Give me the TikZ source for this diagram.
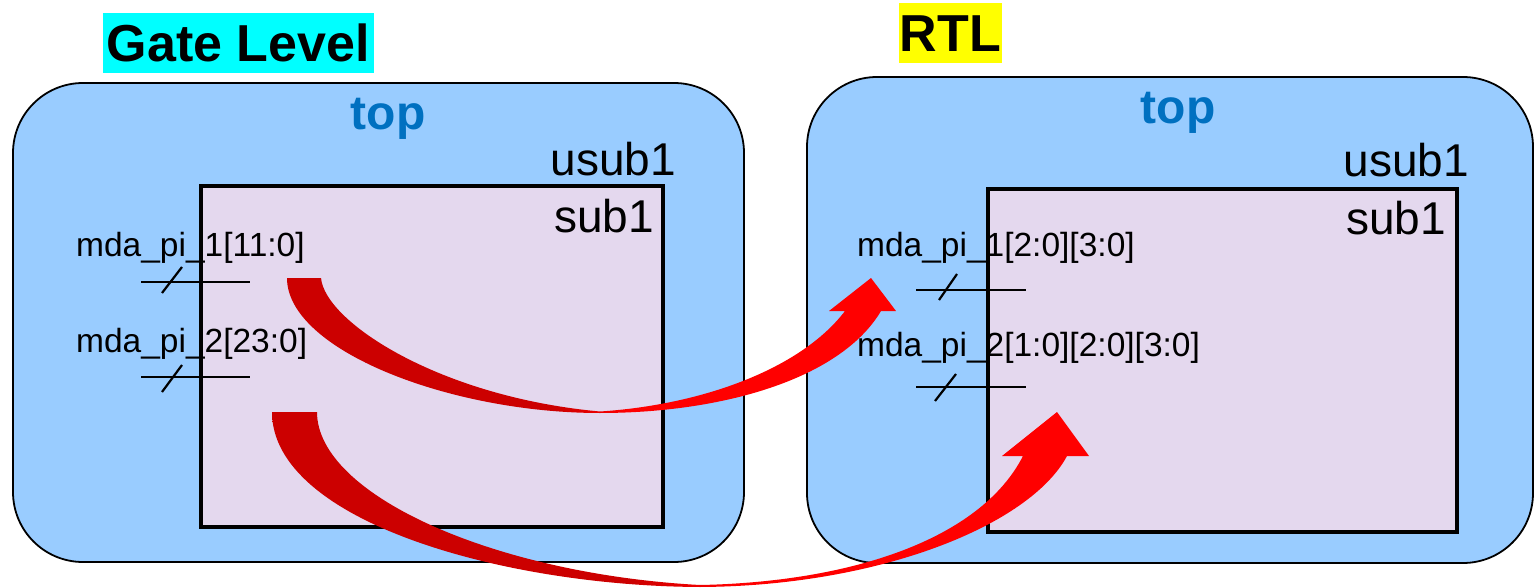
\documentclass[tikz,border=0pt]{standalone}
\usepackage{fontspec}
\setmainfont{Liberation Sans}
\definecolor{topfill}{HTML}{99CCFF}
\definecolor{subfill}{HTML}{E4D8EE}
\definecolor{topblue}{HTML}{0070C0}
\definecolor{gatemark}{HTML}{00FFFF}
\definecolor{rtlmark}{HTML}{FFFF00}
\definecolor{arrowdark}{HTML}{CC0000}
\definecolor{arrowred}{HTML}{FF0000}
% dark red on the left half of a bent arrow, bright red on the right half
\pgfdeclarehorizontalshading{bendred}{100bp}{color(0bp)=(arrowdark); color(47bp)=(arrowdark); color(53bp)=(arrowred); color(100bp)=(arrowred)}
\newcommand\setfs[1]{\fontsize{#1}{#1}\selectfont}
\tikzset{
  topbox/.style={draw=black, line width=1.8pt, fill=topfill, rounded corners=70pt, inner sep=0pt},
  subbox/.style={draw=black, line width=3.5pt, fill=subfill, inner sep=0pt},
  toplabel/.style={font=\bfseries\setfs{48}, text=topblue, inner sep=0pt, anchor=base},
  instlabel/.style={font=\setfs{46}, inner sep=0pt, anchor=base east},
  portlabel/.style={font=\setfs{33.5}, inner sep=0pt, anchor=base west},
  title/.style={font=\bfseries\setfs{52}, inner sep=0pt, minimum height=60pt},
  bus/.style={line width=2.2pt},
  bendarrow/.style={shading=bendred}
}
\begin{document}
\begin{tikzpicture}[x=1pt, y=-1pt]
\useasboundingbox (0,0) rectangle (1537,588);

% ---------- gate level view ----------
\node[title, fill=gatemark, minimum width=271pt] (gl) at (238.5,43) {Gate Level};
\node[topbox, minimum width=731pt, minimum height=479pt] (gtop) at (378.5,322.5) {};
\node[subbox, minimum width=462pt, minimum height=341pt] (gsub) at (432,356.5) {};
\node[toplabel] (gtopname) at (388,130) {top};
\node[instlabel] (gusub) at (676,176) {usub1};
\node[instlabel] (gsubname) at (654,233) {sub1};
\node[portlabel] (gp1) at (76,257) {mda\_pi\_1[11:0]};
\node[portlabel] (gp2) at (76,352) {mda\_pi\_2[23:0]};
\coordinate (gb1w) at (141,282); \coordinate (gb1e) at (250,282);
\coordinate (gs1a) at (162,293); \coordinate (gs1b) at (182,267);
\coordinate (gb2w) at (141,377); \coordinate (gb2e) at (250,377);
\coordinate (gs2a) at (162,392); \coordinate (gs2b) at (182,365);
\draw[bus] (gb1w) -- (gb1e);
\draw[bus] (gs1a) -- (gs1b);
\draw[bus] (gb2w) -- (gb2e);
\draw[bus] (gs2a) -- (gs2b);

% ---------- RTL view ----------
\node[title, fill=rtlmark, minimum width=103pt] (rtl) at (950.5,33.5) {RTL};
\node[topbox, minimum width=726pt, minimum height=486pt] (rtop) at (1170,320) {};
\node[subbox, minimum width=469pt, minimum height=343pt] (rsub) at (1222.5,360.5) {};
\node[toplabel] (rtopname) at (1178,124) {top};
\node[instlabel] (rusub) at (1469,177) {usub1};
\node[instlabel] (rsubname) at (1446,235) {sub1};
\node[portlabel] (rp1) at (857,257) {mda\_pi\_1[2:0][3:0]};
\node[portlabel] (rp2) at (857,356) {mda\_pi\_2[1:0][2:0][3:0]};
\coordinate (rb1w) at (916,290); \coordinate (rb1e) at (1026,290);
\coordinate (rs1a) at (939,300); \coordinate (rs1b) at (957,274);
\coordinate (rb2w) at (916,387); \coordinate (rb2e) at (1026,387);
\coordinate (rs2a) at (935,401); \coordinate (rs2b) at (956,374);
\draw[bus] (rb1w) -- (rb1e);
\draw[bus] (rs1a) -- (rs1b);
\draw[bus] (rb2w) -- (rb2e);
\draw[bus] (rs2a) -- (rs2b);

% ---------- bent block arrows ----------
\shade[bendarrow] (287,278) .. controls (287,350) and (450,413) .. (600,413)
  .. controls (720,413) and (840,380) .. (881,311)
  -- (896,311) -- (871,278) -- (829,311) -- (845,311)
  .. controls (800,370) and (700,405) .. (600,411.5)
  .. controls (440,397) and (325,322) .. (321,278) -- cycle;
\shade[bendarrow] (272,412) .. controls (272,520) and (500,586) .. (700,587)
  .. controls (880,586) and (1030,525) .. (1067,456)
  -- (1089,456) -- (1057,412) -- (1002,456) -- (1023,456)
  .. controls (980,540) and (850,582) .. (700,585)
  .. controls (495,574) and (317,495) .. (317,412) -- cycle;
\end{tikzpicture}
\end{document}
